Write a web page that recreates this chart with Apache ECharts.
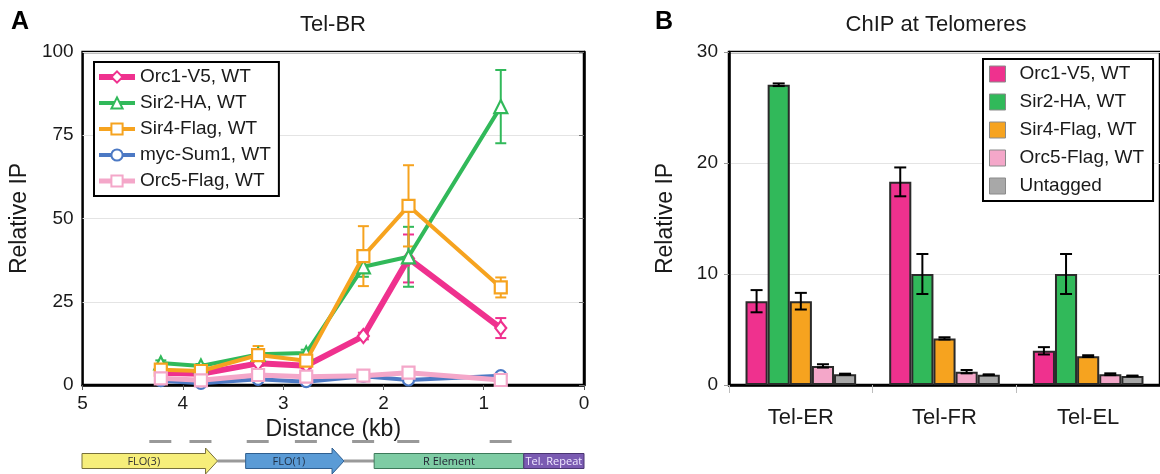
<!DOCTYPE html>
<html>
<head>
<meta charset="utf-8">
<title>Tel-BR / ChIP at Telomeres</title>
<script src="https://cdn.jsdelivr.net/npm/echarts@6/dist/echarts.min.js"></script>
<style>
  html, body { margin: 0; padding: 0; background: #fff; }
  #wrap { position: relative; width: 1160px; height: 474px; overflow: hidden; }
  #telbr { position: absolute; left: 0; top: 0; width: 620px; height: 474px; }
  #chip { position: absolute; left: 620px; top: 0; width: 540px; height: 474px; }
</style>
</head>
<body>
<div id="wrap">
  <div id="telbr"></div>
  <div id="chip"></div>
</div>
<script>
// ---------- Panel A data: Tel-BR profile ----------
const distanceKb = [4.22, 3.82, 3.25, 2.77, 2.20, 1.75, 0.83];
const distanceTicks = [0, 1, 2, 3, 4, 5];
const lineNames = ['Orc1-V5, WT', 'Sir2-HA, WT', 'Sir4-Flag, WT', 'myc-Sum1, WT', 'Orc5-Flag, WT'];

const orc1V5 = [3.7, 3.4, 6.5, 5.8, 14.7, 38.0, 17.1];
const orc1V5Err = [0.6, 0.6, 0.8, 0.8, 1.0, 7.2, 3.0];
const sir2HA = [6.6, 5.7, 9.2, 9.6, 35.5, 38.5, 83.6];
const sir2HAErr = [0.8, 0.6, 0.8, 1.0, 3.0, 9.0, 11.0];
const sir4Flag = [4.6, 4.2, 9.0, 7.3, 38.7, 53.8, 29.3];
const sir4FlagErr = [0.8, 0.7, 2.7, 1.0, 9.0, 12.2, 3.0];
const mycSum1 = [1.3, 0.5, 1.7, 1.0, 2.6, 1.5, 2.8];
const mycSum1Err = [0.3, 0.3, 0.3, 0.3, 0.3, 0.3, 0.3];
const orc5Flag = [2.0, 1.4, 3.0, 2.5, 2.8, 3.7, 1.5];
const orc5FlagErr = [0.4, 0.4, 0.4, 0.4, 0.4, 0.4, 0.4];

// genomic features along the Tel-BR region (kb from the telomere end)
const featureLabels = ['FLO(3)', 'FLO(1)', 'R Element', 'Tel. Repeat'];
const featureStart = [5.0, 3.37, 2.09, 0.60];
const featureEnd = [3.65, 2.39, 0.60, 0.0];

// ---------- Panel B data: ChIP at telomeres ----------
const telomeres = ['Tel-ER', 'Tel-FR', 'Tel-EL'];
const barNames = ['Orc1-V5, WT', 'Sir2-HA, WT', 'Sir4-Flag, WT', 'Orc5-Flag, WT', 'Untagged'];
const orc1Chip = [7.55, 18.3, 3.08];
const orc1ChipErr = [1.0, 1.3, 0.33];
const sir2Chip = [27.05, 10.0, 10.0];
const sir2ChipErr = [0.12, 1.8, 1.8];
const sir4Chip = [7.55, 4.2, 2.6];
const sir4ChipErr = [0.75, 0.1, 0.08];
const orc5Chip = [1.72, 1.2, 0.97];
const orc5ChipErr = [0.15, 0.15, 0.08];
const untaggedChip = [0.97, 0.93, 0.82];
const untaggedChipErr = [0.05, 0.03, 0.03];

// ---------- styling ----------
const FONT = '"Liberation Sans", Arial, Helvetica, sans-serif';
const INK = '#1a1a1a';
const PINK = '#EF318E', GREEN = '#31B95A', ORANGE = '#F6A31F', BLUE = '#4C79C4', LPINK = '#F4A7C9', GREY = '#A8A8A8';

const lineDefs = [
  { name: lineNames[0], data: orc1V5, err: orc1V5Err, color: PINK, symbol: 'diamond', size: [11, 14], width: 6 },
  { name: lineNames[1], data: sir2HA, err: sir2HAErr, color: GREEN, symbol: 'triangle', size: 13, width: 4 },
  { name: lineNames[2], data: sir4Flag, err: sir4FlagErr, color: ORANGE, symbol: 'rect', size: 12, width: 4 },
  { name: lineNames[3], data: mycSum1, err: mycSum1Err, color: BLUE, symbol: 'circle', size: 11, width: 4 },
  { name: lineNames[4], data: orc5Flag, err: orc5FlagErr, color: LPINK, symbol: 'rect', size: 12, width: 5 }
];

const featureStyles = [
  { shape: 'arrow', fill: '#F6EE7A', stroke: '#77703a', text: '#333' },
  { shape: 'arrow', fill: '#5A9BD6', stroke: '#2f5f90', text: '#1f2f45' },
  { shape: 'box', fill: '#7ECCA4', stroke: '#3d7a5a', text: '#223' },
  { shape: 'box', fill: '#7A5BB2', stroke: '#4a3572', text: '#efe8ff' }
];

// vertical error bar with caps, centred on a data point
function errorBarShape(x, yTop, yBot, half, color, width) {
  return {
    type: 'group',
    children: [
      { type: 'line', shape: { x1: x, y1: yTop, x2: x, y2: yBot }, style: { stroke: color, lineWidth: width } },
      { type: 'line', shape: { x1: x - half, y1: yTop, x2: x + half, y2: yTop }, style: { stroke: color, lineWidth: width } },
      { type: 'line', shape: { x1: x - half, y1: yBot, x2: x + half, y2: yBot }, style: { stroke: color, lineWidth: width } }
    ]
  };
}

// ---------- Panel A ----------
const chartA = echarts.init(document.getElementById('telbr'), null, { renderer: 'canvas' });

const seriesA = [];
lineDefs.forEach(function (d) {
  seriesA.push({
    type: 'custom',
    xAxisIndex: 0, yAxisIndex: 0,
    z: 2,
    silent: true,
    clip: false,
    data: distanceKb.map(function (kb, i) { return [kb, d.data[i], d.err[i]]; }),
    encode: { x: 0, y: 1 },
    renderItem: function (params, api) {
      const v = api.value(1), e = api.value(2);
      const top = api.coord([api.value(0), v + e]);
      const bot = api.coord([api.value(0), v - e]);
      return errorBarShape(top[0], top[1], bot[1], 5.5, d.color, 2);
    }
  });
});
lineDefs.forEach(function (d, k) {
  seriesA.push({
    type: 'line',
    name: d.name,
    xAxisIndex: 0, yAxisIndex: 0,
    z: 3 + k,
    data: distanceKb.map(function (kb, i) { return [kb, d.data[i]]; }),
    symbol: d.symbol,
    symbolSize: d.size,
    showAllSymbol: true,
    lineStyle: { color: d.color, width: d.width },
    itemStyle: { color: '#fff', borderColor: d.color, borderWidth: 2.2 },
    emphasis: { disabled: true },
    animation: false
  });
});

// probe positions under the axis
seriesA.push({
  type: 'custom',
  xAxisIndex: 1, yAxisIndex: 1,
  silent: true, clip: false,
  data: distanceKb.map(function (kb) { return [kb, 0.5]; }),
  encode: { x: 0, y: 1 },
  renderItem: function (params, api) {
    const c = api.coord([api.value(0), 0.5]);
    return { type: 'rect', shape: { x: c[0] - 11, y: c[1] - 21, width: 22, height: 3 }, style: { fill: '#999' } };
  }
});

// gene map: linker backbone, arrows and boxes
seriesA.push({
  type: 'custom',
  xAxisIndex: 1, yAxisIndex: 1,
  silent: true, clip: false,
  data: featureLabels.map(function (lab, i) {
    const next = i + 1 < featureStart.length ? featureStart[i + 1] : featureEnd[i];
    return [featureStart[i], featureEnd[i], i, next];
  }),
  encode: { x: [0, 1] },
  renderItem: function (params, api) {
    const i = api.value(2);
    const st = featureStyles[i];
    const a = api.coord([api.value(0), 0.5]);
    const b = api.coord([api.value(1), 0.5]);
    const n = api.coord([api.value(3), 0.5]);
    const x0 = Math.min(a[0], b[0]), x1 = Math.max(a[0], b[0]), cy = a[1];
    const half = 7.5, headHalf = 13, headLen = 12;
    const children = [];
    if (n[0] > x1 + 1) {
      children.push({ type: 'line', shape: { x1: x1, y1: cy, x2: n[0], y2: cy }, style: { stroke: '#9a9a9a', lineWidth: 3 } });
    }
    let textX;
    if (st.shape === 'arrow') {
      const hx = x1 - headLen;
      children.push({
        type: 'polygon',
        shape: { points: [[x0, cy - half], [hx, cy - half], [hx, cy - headHalf], [x1, cy], [hx, cy + headHalf], [hx, cy + half], [x0, cy + half]] },
        style: { fill: st.fill, stroke: st.stroke, lineWidth: 1 }
      });
      textX = (x0 + hx) / 2;
    } else {
      children.push({
        type: 'rect',
        shape: { x: x0, y: cy - half, width: x1 - x0, height: half * 2 },
        style: { fill: st.fill, stroke: st.stroke, lineWidth: 1 }
      });
      textX = (x0 + x1) / 2;
    }
    children.push({
      type: 'text',
      style: { text: featureLabels[i], x: textX, y: cy + 0.5, align: 'center', verticalAlign: 'middle', font: '11px "Open Sans", sans-serif', fill: st.text }
    });
    return { type: 'group', children: children };
  }
});

chartA.setOption({
  animation: false,
  backgroundColor: '#fff',
  textStyle: { fontFamily: FONT },
  graphic: [
    { type: 'text', x: 11, y: 10, style: { text: 'A', font: 'bold 25px ' + FONT, fill: '#000' } },
    { type: 'text', x: 333, y: 25, style: { text: 'Tel-BR', font: '22px ' + FONT, fill: INK, align: 'center', verticalAlign: 'middle' } }
  ],
  legend: {
    data: lineDefs.map(function (d) { return { name: d.name, lineStyle: { width: d.width, color: d.color } }; }),
    orient: 'vertical',
    left: 94, top: 62,
    backgroundColor: '#fff',
    borderColor: '#000', borderWidth: 2,
    padding: [5, 8, 5, 2],
    itemWidth: 36, itemHeight: 14, itemGap: 6,
    selectedMode: false,
    textStyle: { fontFamily: FONT, fontSize: 19, lineHeight: 20, color: INK }
  },
  grid: [
    { left: 82, right: 36, top: 52, bottom: 89, show: true, borderColor: '#000', borderWidth: 2.5, backgroundColor: 'transparent' },
    { left: 82, right: 36, top: 448, height: 27 }
  ],
  xAxis: [
    {
      type: 'value', gridIndex: 0, min: 0, max: 5, interval: 1, inverse: true,
      name: 'Distance (kb)', nameLocation: 'middle', nameGap: 22,
      nameTextStyle: { fontFamily: FONT, fontSize: 23, color: INK },
      axisLine: { show: true, onZero: false, lineStyle: { color: '#000', width: 2.5 } },
      axisTick: { show: true, length: 5, lineStyle: { color: '#555' } },
      axisLabel: { fontFamily: FONT, fontSize: 19, color: INK, margin: 9,
        customValues: distanceTicks },
      splitLine: { show: false }
    },
    { type: 'value', gridIndex: 1, min: 0, max: 5, inverse: true, show: false }
  ],
  yAxis: [
    {
      type: 'value', gridIndex: 0, min: 0, max: 100, interval: 25,
      name: 'Relative IP', nameLocation: 'middle', nameGap: 36, nameRotate: 90,
      nameTextStyle: { fontFamily: FONT, fontSize: 23, color: INK },
      axisLine: { show: true, lineStyle: { color: '#000', width: 2.5 } },
      axisTick: { show: true, length: 5, lineStyle: { color: '#777' } },
      axisLabel: { fontFamily: FONT, fontSize: 19, color: INK, margin: 9 },
      splitLine: { show: true, lineStyle: { color: '#e4e4e4', width: 1 } }
    },
    { type: 'value', gridIndex: 1, min: 0, max: 1, show: false }
  ],
  series: seriesA
});

// ---------- Panel B ----------
const chartB = echarts.init(document.getElementById('chip'), null, { renderer: 'canvas' });

const barDefs = [
  { name: barNames[0], data: orc1Chip, err: orc1ChipErr, color: PINK },
  { name: barNames[1], data: sir2Chip, err: sir2ChipErr, color: GREEN },
  { name: barNames[2], data: sir4Chip, err: sir4ChipErr, color: ORANGE },
  { name: barNames[3], data: orc5Chip, err: orc5ChipErr, color: LPINK },
  { name: barNames[4], data: untaggedChip, err: untaggedChipErr, color: GREY }
];
const CAT_GAP = 0.23;

const seriesB = barDefs.map(function (d) {
  return {
    type: 'bar',
    name: d.name,
    data: d.data,
    barGap: '0%',
    barCategoryGap: (CAT_GAP * 100) + '%',
    itemStyle: { color: d.color, borderColor: '#2a2a2a', borderWidth: 2 },
    emphasis: { disabled: true },
    z: 2
  };
});

const errRows = [];
barDefs.forEach(function (d, s) {
  d.data.forEach(function (v, c) { errRows.push([c, v, d.err[c], s]); });
});
seriesB.push({
  type: 'custom',
  silent: true, clip: false, z: 5,
  data: errRows,
  encode: { x: 0, y: 1 },
  renderItem: function (params, api) {
    const c = api.value(0), v = api.value(1), e = api.value(2), s = api.value(3);
    const band = api.size([1, 0])[0];
    const group = band * (1 - CAT_GAP);
    const bw = group / barDefs.length;
    const center = api.coord([c, v])[0];
    const x = center - group / 2 + (s + 0.5) * bw;
    const yTop = api.coord([c, v + e])[1];
    const yBot = api.coord([c, v - e])[1];
    return errorBarShape(x, yTop, yBot, 6, '#000', 2);
  }
});

chartB.setOption({
  animation: false,
  backgroundColor: '#fff',
  textStyle: { fontFamily: FONT },
  graphic: [
    { type: 'text', x: 35, y: 10, style: { text: 'B', font: 'bold 25px ' + FONT, fill: '#000' } },
    { type: 'text', x: 316, y: 25, style: { text: 'ChIP at Telomeres', font: '22px ' + FONT, fill: INK, align: 'center', verticalAlign: 'middle' } }
  ],
  legend: {
    data: barNames,
    orient: 'vertical',
    left: 363, top: 59,
    backgroundColor: '#fff',
    borderColor: '#000', borderWidth: 2,
    padding: [5, 9, 5, 6],
    icon: 'rect',
    itemWidth: 16, itemHeight: 16, itemGap: 8,
    selectedMode: false,
    itemStyle: { borderColor: '#8a8a8a', borderWidth: 1 },
    textStyle: { fontFamily: FONT, fontSize: 19, lineHeight: 20, color: INK, padding: [0, 0, 0, 9] }
  },
  grid: { left: 109, right: -3, top: 52, bottom: 89, show: true, borderColor: '#000', borderWidth: 2.5 },
  xAxis: {
    type: 'category', data: telomeres,
    axisLine: { show: true, lineStyle: { color: '#000', width: 2.5 } },
    axisTick: { show: true, length: 8, interval: 0, alignWithLabel: false, lineStyle: { color: '#bdbdbd' } },
    axisLabel: { fontFamily: FONT, fontSize: 22, color: INK, margin: 22 },
    splitLine: { show: false }
  },
  yAxis: {
    type: 'value', min: 0, max: 30, interval: 10,
    name: 'Relative IP', nameLocation: 'middle', nameGap: 52, nameRotate: 90,
    nameTextStyle: { fontFamily: FONT, fontSize: 23, color: INK },
    axisLine: { show: true, lineStyle: { color: '#000', width: 2.5 } },
    axisTick: { show: true, length: 5, lineStyle: { color: '#999' } },
    axisLabel: { fontFamily: FONT, fontSize: 19, color: INK, margin: 11 },
    splitLine: { show: true, lineStyle: { color: '#e4e4e4', width: 1 } }
  },
  series: seriesB
});
</script>
</body>
</html>
